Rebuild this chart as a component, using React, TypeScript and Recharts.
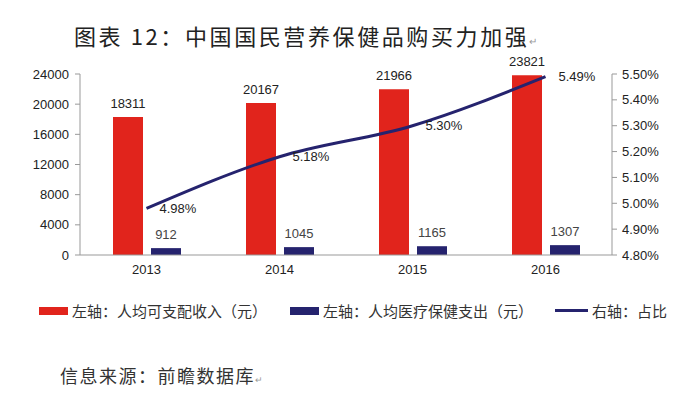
import React from 'react';
import { ComposedChart, Bar, Line, XAxis, YAxis, LabelList } from 'recharts';

const years = ['2013', '2014', '2015', '2016'];
const income = [18311, 20167, 21966, 23821];
const medical = [912, 1045, 1165, 1307];
const ratio = [4.98, 5.18, 5.30, 5.49];
const leftTicks = [0, 4000, 8000, 12000, 16000, 20000, 24000];
const rightTicks = [4.8, 4.9, 5.0, 5.1, 5.2, 5.3, 5.4, 5.5];

const title = '图表 12：中国国民营养保健品购买力加强';
const legendItems = ['左轴：人均可支配收入（元）', '左轴：人均医疗保健支出（元）', '右轴：占比'];
const source = '信息来源：前瞻数据库';

const RED = '#E1241C';
const NAVY = '#25236E';
const CJK = '"Noto Sans CJK SC", sans-serif';
const LATIN = '"Liberation Sans", Arial, sans-serif';

const data = years.map((y, i) => ({ year: y, income: income[i], medical: medical[i], ratio: ratio[i] }));

export default function App() {
  return (
    <div style={{ position: 'absolute', left: 0, top: 0, width: 695, height: 393, background: '#fff', overflow: 'hidden' }}>
      <div style={{ position: 'absolute', left: 74, top: 19, fontFamily: CJK, fontSize: 22, color: '#222', whiteSpace: 'nowrap', letterSpacing: 2.6 }}>
        {title}<span style={{ fontSize: 10, color: '#999', letterSpacing: 0 }}>↵</span>
      </div>
      <div style={{ position: 'absolute', left: 0, top: 0 }}>
        <ComposedChart width={695} height={290} data={data} margin={{ top: 74, right: 0, bottom: 5, left: 0 }} barGap={8} barCategoryGap="25%">
          <XAxis dataKey="year" tickLine={false} axisLine={{ stroke: '#999' }} tick={{ fill: '#222', fontSize: 13, fontFamily: LATIN }} tickMargin={4} height={30} />
          <YAxis yAxisId="left" orientation="left" width={80} domain={[0, 24000]} ticks={leftTicks} interval={0}
            axisLine={{ stroke: '#999' }} tickLine={{ stroke: '#999' }} tickSize={5} tickMargin={6}
            tick={{ fill: '#222', fontSize: 13, fontFamily: LATIN }} />
          <YAxis yAxisId="right" orientation="right" width={83} domain={[4.8, 5.5]} ticks={rightTicks} interval={0}
            axisLine={{ stroke: '#999' }} tickLine={{ stroke: '#999' }} tickSize={5} tickMargin={5}
            tickFormatter={(v: number) => `${v.toFixed(2)}%`}
            tick={{ fill: '#222', fontSize: 13, fontFamily: LATIN }} />
          <Bar yAxisId="left" dataKey="income" fill={RED} barSize={30} isAnimationActive={false}>
            <LabelList dataKey="income" position="top" offset={9} style={{ fill: '#222', fontSize: 13, fontFamily: LATIN }} />
          </Bar>
          <Bar yAxisId="left" dataKey="medical" fill={NAVY} barSize={30} isAnimationActive={false}>
            <LabelList dataKey="medical" position="top" offset={9} style={{ fill: '#444', fontSize: 13, fontFamily: LATIN }} />
          </Bar>
          <Line yAxisId="right" dataKey="ratio" type="monotone" stroke={NAVY} strokeWidth={3} dot={false} isAnimationActive={false}>
            <LabelList dataKey="ratio" position="right" offset={13} formatter={(v: number) => `${v.toFixed(2)}%`}
              style={{ fill: '#222', fontSize: 13, fontFamily: LATIN }} />
          </Line>
        </ComposedChart>
      </div>
      <div style={{ position: 'absolute', left: 39, top: 300, display: 'flex', alignItems: 'center', fontFamily: CJK, fontSize: 15, color: '#333', whiteSpace: 'nowrap' }}>
        <span style={{ display: 'inline-block', width: 29, height: 8, background: RED, marginRight: 4 }} />
        <span style={{ marginRight: 23 }}>{legendItems[0]}</span>
        <span style={{ display: 'inline-block', width: 29, height: 8, background: NAVY, marginRight: 4 }} />
        <span style={{ marginRight: 22 }}>{legendItems[1]}</span>
        <span style={{ display: 'inline-block', width: 33, height: 3, background: NAVY, marginRight: 4 }} />
        <span>{legendItems[2]}</span>
      </div>
      <div style={{ position: 'absolute', left: 60, top: 362, fontFamily: CJK, fontSize: 18, color: '#333', whiteSpace: 'nowrap', letterSpacing: 1.5 }}>
        {source}<span style={{ fontSize: 9, color: '#999', letterSpacing: 0 }}>↵</span>
      </div>
    </div>
  );
}
